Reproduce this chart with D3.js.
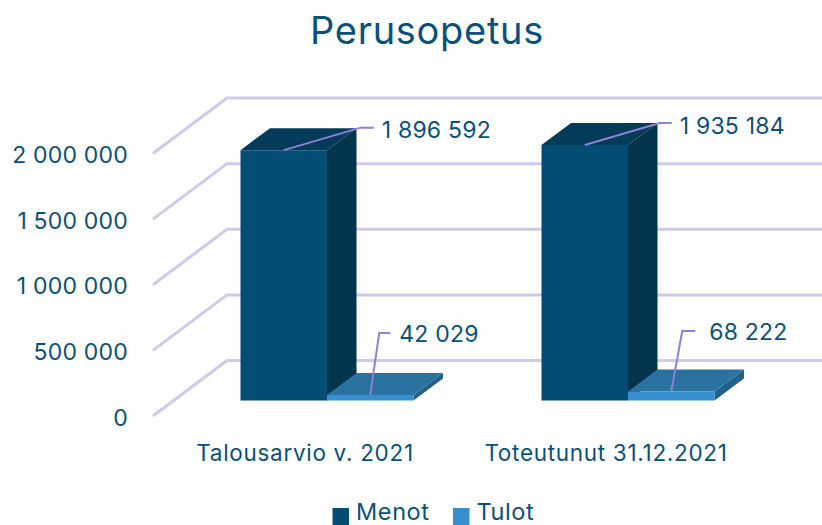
<!DOCTYPE html>
<html><head><meta charset="utf-8">
<script src="https://cdnjs.cloudflare.com/ajax/libs/d3/7.8.5/d3.min.js"></script>
<style>html,body{margin:0;background:#fff;overflow:hidden}svg{display:block}text{font-family:Inter,"Open Sans",sans-serif;fill:#0b5078}</style>
</head><body><svg id="c" width="822" height="525"></svg>
<script>
const title = "Perusopetus";
const categories = ["Talousarvio v. 2021", "Toteutunut 31.12.2021"];
const seriesNames = ["Menot", "Tulot"];
const menot = [1896592, 1935184];
const tulot = [42029, 68222];
const yTicks = [0, 500000, 1000000, 1500000, 2000000];

const fmt = v => d3.format(",")(v).replace(/,/g, " ");
const svg = d3.select("#c");
const colors = {
  Menot: {front:"#034d74", top:"#033b58", side:"#02344e"},
  Tulot: {front:"#3690d0", top:"#2a72a0", side:"#236089"}
};
const grid = "#cfc9ea", leader = "#8f80d8";

svg.append("text").attr("x",427).attr("y",44).attr("text-anchor","middle").attr("font-size",38).attr("letter-spacing",0.7).text(title);

// wall + floor
const yWall = d3.scaleLinear().domain([0,2000000]).range([360.5,98]);
const depth = {dx:74, dy:55.5};
const yBar = d3.scaleLinear().domain([0,2000000]).range([400.5,136.5]);
const gridG = svg.append("g").attr("fill","none").attr("stroke",grid).attr("stroke-width",3);
gridG.selectAll("path").data(yTicks).join("path")
  .attr("d", t => d3.line()([[227-depth.dx, yWall(t)+depth.dy],[227,yWall(t)],[822,yWall(t)]]));
svg.append("g").selectAll("text").data(yTicks).join("text")
  .attr("x",128).attr("y",t=>yWall(t)+depth.dy+9.5).attr("text-anchor","end").attr("font-size",23).attr("letter-spacing",0.2)
  .text(fmt);

// bars
const x0 = d3.scaleBand().domain(categories).range([176.5,778.5]);
const barW = 86.5;
const x1 = d3.scaleBand().domain(seriesNames).range([x0.bandwidth()/2-barW, x0.bandwidth()/2+barW]);
const barD = {dx:29.5, dy:22};
const rows = [];
categories.forEach((c,i)=>{ rows.push({c,s:"Menot",v:menot[i],i}); rows.push({c,s:"Tulot",v:tulot[i],i}); });
const poly = p => "M"+p.map(q=>q.join(",")).join("L")+"Z";
const bars = svg.append("g").selectAll("g").data(rows).join("g");
bars.each(function(d){
  const g = d3.select(this), l = x0(d.c)+x1(d.s), r = l+barW, t = yBar(d.v), b = yBar(0), col = colors[d.s];
  g.append("path").attr("fill",col.side).attr("d",poly([[r,t],[r+barD.dx,t-barD.dy],[r+barD.dx,b-barD.dy],[r,b]]));
  g.append("path").attr("fill",col.top).attr("d",poly([[l,t],[l+barD.dx,t-barD.dy],[r+barD.dx,t-barD.dy],[r,t]]));
  g.append("path").attr("fill",col.front).attr("d",poly([[l,t],[r,t],[r,b],[l,b]]));
});

// data labels
const labelOffsets = [
  {ex:77,ey:-22.5,hx:13,tx:8,ty:10.5},
  {ex:9,ey:-62,hx:11,tx:9,ty:9},
  {ex:75,ey:-22,hx:12,tx:8,ty:10.5},
  {ex:11,ey:-60.5,hx:13,tx:14,ty:9.5}
];
rows.forEach((d,k)=>{
  const o = labelOffsets[k], sx = x0(d.c)+x1(d.s)+barW/2, sy = yBar(d.v);
  const ex = sx+o.ex, ey = sy+o.ey;
  svg.append("path").attr("fill","none").attr("stroke",leader).attr("stroke-width",2)
    .attr("d",d3.line()([[sx,sy],[ex,ey],[ex+o.hx,ey]]));
  svg.append("text").attr("x",ex+o.hx+o.tx).attr("y",ey+o.ty).attr("font-size",23).attr("letter-spacing",0.2).text(fmt(d.v));
});

// category labels
svg.append("g").selectAll("text").data(categories).join("text")
  .attr("x",c=>x0(c)+x0.bandwidth()/2-22).attr("y",461).attr("text-anchor","middle").attr("font-size",22.5).attr("letter-spacing",0.7).text(c=>c);

// legend: text sits just high enough that its box stays inside the frame
const legX = {Menot:332.5, Tulot:453};
const lg = svg.append("g").selectAll("g").data(seriesNames).join("g");
lg.append("rect").attr("x",s=>legX[s]).attr("y",508).attr("width",16.5).attr("height",17).attr("fill",s=>colors[s].front);
lg.append("text").attr("x",s=>legX[s]+23.5).attr("y",519.5).attr("font-size",23.5).attr("letter-spacing",0.6).text(s=>s);
</script></body></html>
